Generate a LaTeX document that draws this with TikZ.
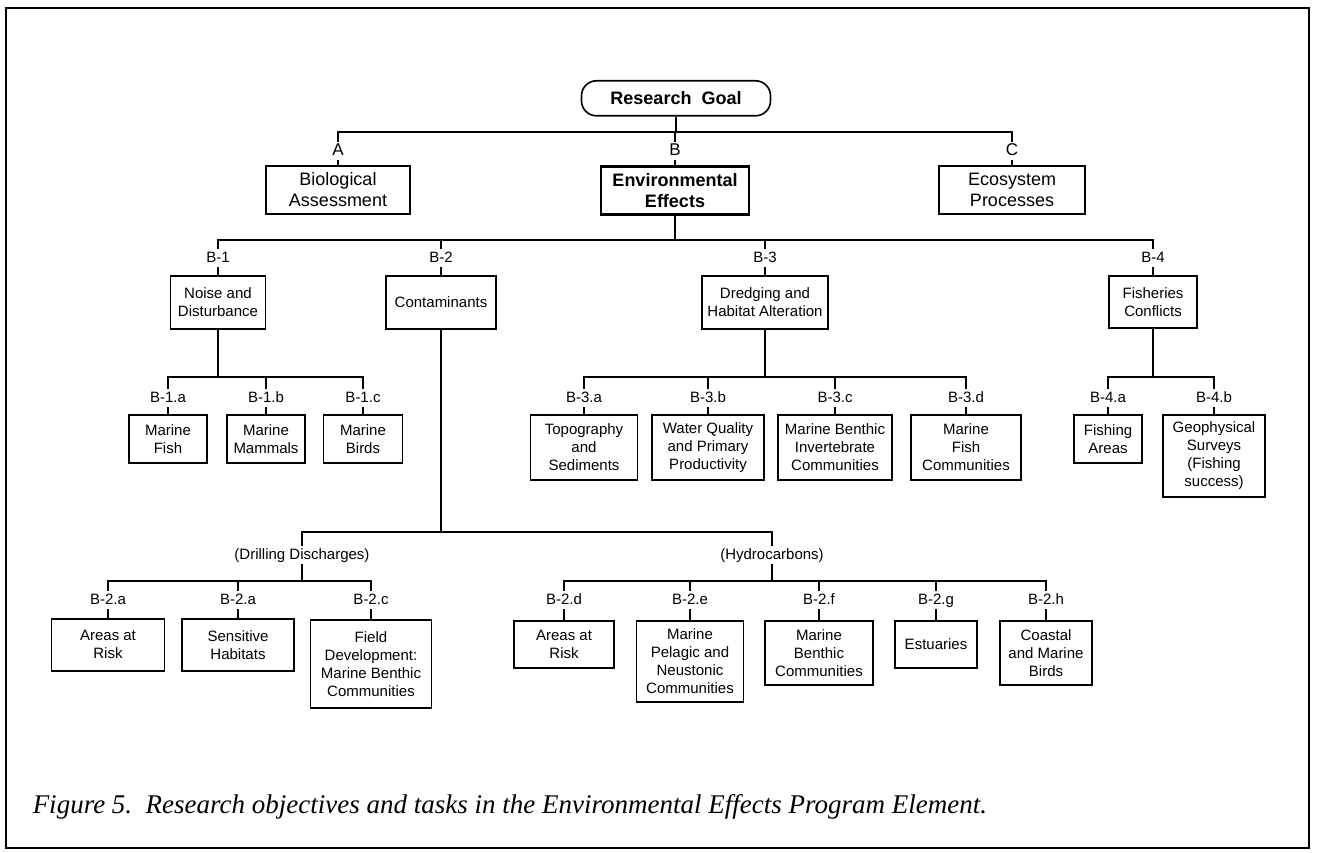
\documentclass[tikz,border=0pt]{standalone}
\usepackage{fontspec}
\setmainfont{Liberation Sans}
\newfontfamily\capfont{Liberation Serif}
\begin{document}
\begin{tikzpicture}[x=1pt,y=-1pt,line width=1.5pt,
  box/.style 2 args={draw,line width=1.6pt,inner sep=0pt,align=center,anchor=north,
     minimum width=#1 pt,minimum height=#2 pt,font=\fontsize{15}{18}\selectfont},
  topbox/.style={font=\fontsize{18}{21}\selectfont},
  lbl/.style={inner sep=1.5pt,text height=11pt,text depth=3pt,font=\fontsize{15}{16}\selectfont},
  toplbl/.style={inner sep=1.5pt,text height=12pt,text depth=2pt,font=\fontsize{17}{18}\selectfont},
  capt/.style={anchor=base west,inner sep=0pt,font=\capfont\itshape\fontsize{27}{29}\selectfont}]
\useasboundingbox (0,0) rectangle (1317,853);
\draw[line width=2pt] (6,8) rectangle (1309,848);

% bus heights
\coordinate (bus0) at (675,132);
\coordinate (bus1) at (675,240);
\coordinate (bus2) at (675,377);
\coordinate (cbus) at (445,532);
\coordinate (dbus) at (445,581);

% level 0 / 1
\node[box={189}{35},rounded corners=15pt,font=\bfseries\fontsize{18}{20}\selectfont] (goal) at (676,80) {Research\ \ Goal};
\node[toplbl] (la) at (338,151) {A};
\node[toplbl] (lb) at (675,151) {B};
\node[toplbl] (lc) at (1012,151) {C};
\node[box={144}{48},topbox] (ba) at (338,165) {Biological\\Assessment};
\node[box={148}{48},topbox,line width=2.8pt,font=\bfseries\fontsize{18}{21}\selectfont] (ee) at (675,165) {Environmental\\Effects};
\node[box={146}{48},topbox] (ep) at (1012,165) {Ecosystem\\Processes};

% level 2
\node[lbl] (l1) at (218,258) {B-1};
\node[lbl] (l2) at (441,258) {B-2};
\node[lbl] (l3) at (765,258) {B-3};
\node[lbl] (l4) at (1153,258) {B-4};
\node[box={95}{53}] (b1) at (218,275) {Noise and\\Disturbance};
\node[box={110}{53}] (b2) at (441,275) {Contaminants};
\node[box={126}{53}] (b3) at (765,275) {Dredging and\\Habitat Alteration};
\node[box={88}{52}] (b4) at (1153,275) {Fisheries\\Conflicts};

% B-1 leaves
\node[lbl] (l1a) at (168,398) {B-1.a};
\node[lbl] (l1b) at (266,398) {B-1.b};
\node[lbl] (l1c) at (363,398) {B-1.c};
\node[box={78}{48}] (b1a) at (168,414) {Marine\\Fish};
\node[box={78}{48}] (b1b) at (266,414) {Marine\\Mammals};
\node[box={79}{48}] (b1c) at (363,414) {Marine\\Birds};

% B-3 leaves
\node[lbl] (l3a) at (584,398) {B-3.a};
\node[lbl] (l3b) at (708,398) {B-3.b};
\node[lbl] (l3c) at (835,398) {B-3.c};
\node[lbl] (l3d) at (966,398) {B-3.d};
\node[box={107}{65}] (b3a) at (584,414) {Topography\\and\\Sediments};
\node[box={112}{65}] (b3b) at (708,414) {Water Quality\\and Primary\\Productivity};
\node[box={114}{65}] (b3c) at (835,414) {Marine Benthic\\Invertebrate\\Communities};
\node[box={110}{65}] (b3d) at (966,414) {Marine\\Fish\\Communities};

% B-4 leaves
\node[lbl] (l4a) at (1108,398) {B-4.a};
\node[lbl] (l4b) at (1214,398) {B-4.b};
\node[box={68}{48}] (b4a) at (1108,414) {Fishing\\Areas};
\node[box={102}{82}] (b4b) at (1214,414) {Geophysical\\Surveys\\(Fishing\\success)};

% contaminants groups
\node[lbl] (dd) at (302,555) {(Drilling Discharges)};
\node[lbl] (hc) at (772,555) {(Hydrocarbons)};

\node[lbl] (l2a) at (108,600) {B-2.a};
\node[lbl] (l2b) at (238,600) {B-2.a};
\node[lbl] (l2c) at (371,600) {B-2.c};
\node[box={113}{52}] (b2a) at (108,618) {Areas at\\Risk};
\node[box={112}{52}] (b2b) at (238,618) {Sensitive\\Habitats};
\node[box={121}{88}] (b2c) at (371,619) {Field\\Development:\\Marine Benthic\\Communities};

\node[lbl] (l2d) at (564,600) {B-2.d};
\node[lbl] (l2e) at (690,600) {B-2.e};
\node[lbl] (l2f) at (819,600) {B-2.f};
\node[lbl] (l2g) at (936,600) {B-2.g};
\node[lbl] (l2h) at (1046,600) {B-2.h};
\node[box={100}{47}] (b2d) at (564,620) {Areas at\\Risk};
\node[box={107}{81}] (b2e) at (690,620) {Marine\\Pelagic and\\Neustonic\\Communities};
\node[box={108}{64}] (b2f) at (819,620) {Marine\\Benthic\\Communities};
\node[box={82}{47}] (b2g) at (936,620) {Estuaries};
\node[box={92}{64}] (b2h) at (1046,620) {Coastal\\and Marine\\Birds};

% connectors level 0
\draw (goal.south) -- (goal.south |- bus0);
\draw (la.north) |- (lc.north |- bus0) -- (lc.north);
\draw (lb.north |- bus0) -- (lb.north);
\foreach \a/\b in {la/ba,lb/ee,lc/ep} \draw (\a.south) -- (\b.north);

% level 1
\draw (ee.south) -- (ee.south |- bus1);
\draw (l1.north) |- (l4.north |- bus1) -- (l4.north);
\foreach \a in {l2,l3} \draw (\a.north |- bus1) -- (\a.north);
\foreach \a/\b in {l1/b1,l2/b2,l3/b3,l4/b4} \draw (\a.south) -- (\b.north);

% B-1
\draw (b1.south) -- (b1.south |- bus2);
\draw (l1a.north) |- (l1c.north |- bus2) -- (l1c.north);
\draw (l1b.north |- bus2) -- (l1b.north);
\foreach \a/\b in {l1a/b1a,l1b/b1b,l1c/b1c} \draw (\a.south) -- (\b.north);

% B-3
\draw (b3.south) -- (b3.south |- bus2);
\draw (l3a.north) |- (l3d.north |- bus2) -- (l3d.north);
\foreach \a in {l3b,l3c} \draw (\a.north |- bus2) -- (\a.north);
\foreach \a/\b in {l3a/b3a,l3b/b3b,l3c/b3c,l3d/b3d} \draw (\a.south) -- (\b.north);

% B-4
\draw (b4.south) -- (b4.south |- bus2);
\draw (l4a.north) |- (l4b.north |- bus2) -- (l4b.north);
\foreach \a/\b in {l4a/b4a,l4b/b4b} \draw (\a.south) -- (\b.north);

% contaminants
\draw (b2.south) -- (b2.south |- cbus);
\draw (dd.north) |- (hc.north |- cbus) -- (hc.north);

% drilling
\draw (dd.south) -- (dd.south |- dbus);
\draw (l2a.north) |- (l2c.north |- dbus) -- (l2c.north);
\draw (l2b.north |- dbus) -- (l2b.north);
\foreach \a/\b in {l2a/b2a,l2b/b2b,l2c/b2c} \draw (\a.south) -- (\b.north);

% hydrocarbons
\draw (hc.south) -- (hc.south |- dbus);
\draw (l2d.north) |- (l2h.north |- dbus) -- (l2h.north);
\foreach \a in {l2e,l2f,l2g} \draw (\a.north |- dbus) -- (\a.north);
\foreach \a/\b in {l2d/b2d,l2e/b2e,l2f/b2f,l2g/b2g,l2h/b2h} \draw (\a.south) -- (\b.north);

\node[capt] (cap) at (32,813) {Figure 5.\ \ Research objectives and tasks in the Environmental Effects Program Element.};
\end{tikzpicture}
\end{document}
